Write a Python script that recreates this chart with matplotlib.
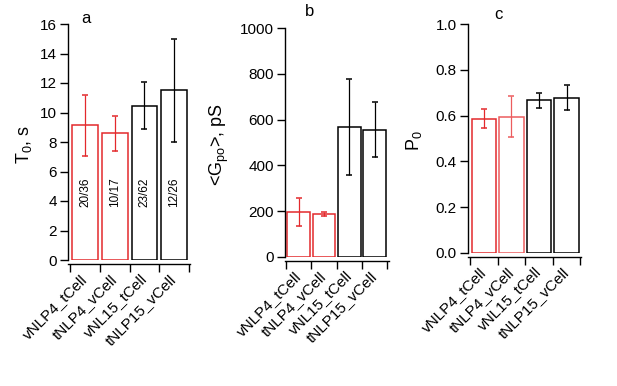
import numpy as np
import matplotlib
matplotlib.use('Agg')
import matplotlib.pyplot as plt

plt.rcParams['font.family'] = 'Liberation Sans'
plt.rcParams['mathtext.fontset'] = 'custom'
plt.rcParams['mathtext.rm'] = 'Liberation Sans'
plt.rcParams['mathtext.it'] = 'Liberation Sans'

categories = ['vNLP4_tCell', 'tNLP4_vCell', 'vNL15_tCell', 'tNLP15_vCell']

t0_vals = [9.12, 8.6, 10.45, 11.5]
t0_errs = [2.08, 1.18, 1.6, 3.5]
t0_counts = ['20/36', '10/17', '23/62', '12/26']

gpo_vals = [197, 188, 569, 555]
gpo_errs = [61, 9, 210, 120]

p0_vals = [0.587, 0.596, 0.667, 0.679]
p0_errs = [0.043, 0.091, 0.033, 0.053]

red = '#e3292c'
bar_colors = [red, red, 'black', 'black']
bar_colors_c = [red, '#ec5c5e', 'black', 'black']


def draw_panel(rect, vals, errs, colors, width, xlim, ylim, yticks, ylabel,
               label_x, letter, letter_pos, fmt='%g'):
    ax = fig.add_axes(rect)
    x = np.arange(len(vals))
    ax.bar(x, vals, width=width, color='white', edgecolor=colors, linewidth=1.1)
    for xi, v, e, c in zip(x, vals, errs, colors):
        ax.errorbar(xi, v, yerr=e, color=c, elinewidth=0.9, capsize=2.5,
                    capthick=1.1)
    ax.set_xlim(xlim)
    ax.set_ylim(ylim)
    # spine position resets the ticks, so do it before styling them
    for s in ['top', 'right']:
        ax.spines[s].set_visible(False)
    ax.spines['bottom'].set_position(('outward', 3))
    ax.spines['left'].set_linewidth(1.0)
    ax.spines['bottom'].set_linewidth(1.0)
    ax.tick_params(axis='x', which='minor', length=0, pad=9, labelsize=11)
    ax.tick_params(axis='both', which='major', length=6, width=1.0,
                   labelsize=11, pad=2)
    ax.set_yticks(yticks)
    ax.set_yticklabels([fmt % t for t in yticks])
    # category boundaries get the ticks, names sit at bar centres
    ax.set_xticks(np.arange(len(vals) + 1) - 0.5)
    ax.set_xticklabels([])
    ax.set_xticks(x, minor=True)
    ax.set_xticklabels(categories, minor=True, rotation=45, ha='right',
                       va='center', rotation_mode='anchor')
    ax.set_ylabel(ylabel, fontsize=13, va='center')
    ax.yaxis.set_label_coords(label_x, 0.49)
    ax.text(letter_pos[0], letter_pos[1], letter, transform=ax.transAxes,
            fontsize=12, ha='center', va='center')
    return ax


fig = plt.figure(figsize=(6.17, 3.86), dpi=100)

ax_a = draw_panel([68 / 617, 126 / 386, 122 / 617, 236 / 386], t0_vals, t0_errs,
                  bar_colors, 0.87, (-0.57, 3.53), (0, 16), np.arange(0, 17, 2),
                  r'T$_0$, s', -0.36, 'a', (0.15, 1.025))
for xi, txt in enumerate(t0_counts):
    ax_a.text(xi, 4.6, txt, rotation=90, ha='center', va='center', fontsize=8.5)

draw_panel([285 / 617, 129 / 386, 104 / 617, 229 / 386], gpo_vals, gpo_errs,
           bar_colors, 0.9, (-0.54, 3.56), (0, 1000), np.arange(0, 1001, 200),
           r'<G$_{\rm po}$>, pS', -0.63, 'b', (0.24, 1.07))

draw_panel([468 / 617, 133 / 386, 113 / 617, 229 / 386], p0_vals, p0_errs,
           bar_colors_c, 0.88, (-0.57, 3.52), (0, 1.0), np.linspace(0, 1, 6),
           r'P$_0$', -0.48, 'c', (0.27, 1.04), fmt='%.1f')

fig.savefig('out.png', dpi=100)
